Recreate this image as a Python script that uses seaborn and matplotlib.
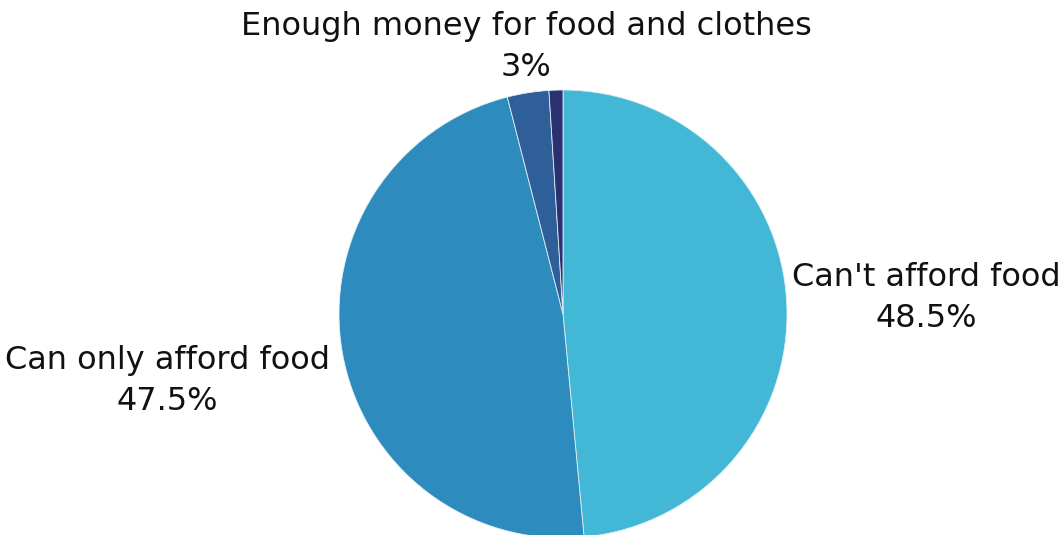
import numpy as np
import matplotlib
matplotlib.use("Agg")
import matplotlib.pyplot as plt
import seaborn as sns

labels = ["Can't afford food", "Can only afford food", "Enough money for food and clothes", "Other"]
values = [48.5, 47.5, 3.0, 1.0]
pct_labels = ["48.5%", "47.5%", "3%", ""]
show_label = [True, True, True, False]
colors = ["#42b7d6", "#2e8bbd", "#2e5f98", "#2b3070"]

sns.set_theme(style="white")
plt.rcParams['font.family'] = ['DejaVu Sans']

W, H = 1061, 535
cx, cy, R = 563, 314, 224
fig = plt.figure(figsize=(W / 100, H / 100), dpi=100)
ax = fig.add_axes([0, 0, 1, 1])
wedges, _ = ax.pie(values, colors=colors, startangle=90, counterclock=False,
                   radius=1, wedgeprops=dict(linewidth=0.6, edgecolor="#dfeff5"))
ax.set_xlim(-cx / R, (W - cx) / R)
ax.set_ylim(-(H - cy) / R, cy / R)
ax.set_aspect('auto')
ax.axis('off')

for w, lab, pct, show in zip(wedges, labels, pct_labels, show_label):
    if not show:
        continue
    ang = np.deg2rad((w.theta1 + w.theta2) / 2)
    x, y = np.cos(ang), np.sin(ang)
    if abs(x) > 0.5:
        if x > 0:
            tx, ty, ha = 1.022, 0.07, 'left'
        else:
            tx, ty, ha = -1.04, -0.30, 'right'
        va = 'center'
    else:
        r = 1.045
        tx, ty, ha, va = r * x, r * y, 'center', 'bottom'
    ax.text(tx, ty, f"{lab}\n{pct}", ha=ha, va=va, fontsize=23, color="#111111",
            multialignment='center', linespacing=1.42)

fig.savefig("out.png", dpi=100)
